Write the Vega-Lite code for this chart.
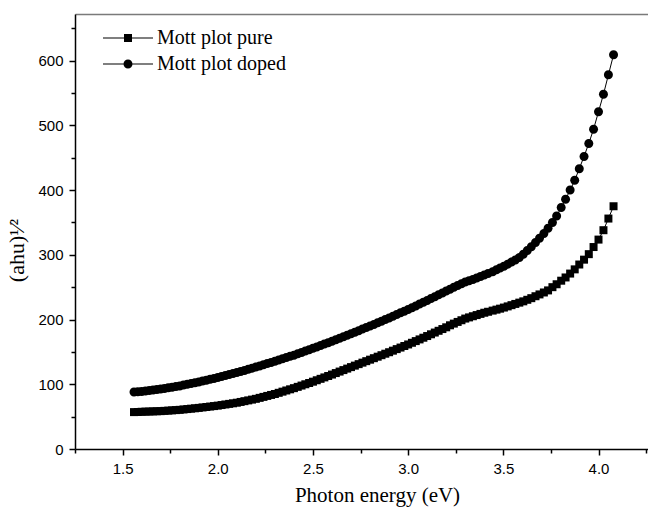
{
  "$schema": "https://vega.github.io/schema/vega-lite/v6.json",
  "width": 573,
  "height": 435,
  "autosize": {"type": "none"},
  "padding": {"left": 75, "top": 14, "right": 0, "bottom": 59},
  "background": "white",
  "config": {"view": {"stroke": null}},
  "data": {"values": [
    {"e":1.56,"pure":57.0,"doped":88.0},{"e":1.58,"pure":57.2,"doped":88.5},{"e":1.60,"pure":57.5,"doped":89.0},{"e":1.62,"pure":57.7,"doped":89.7},
    {"e":1.64,"pure":57.9,"doped":90.4},{"e":1.66,"pure":58.1,"doped":91.1},{"e":1.68,"pure":58.3,"doped":91.8},{"e":1.70,"pure":58.5,"doped":92.5},
    {"e":1.72,"pure":58.9,"doped":93.5},{"e":1.74,"pure":59.3,"doped":94.5},{"e":1.76,"pure":59.7,"doped":95.5},{"e":1.78,"pure":60.1,"doped":96.5},
    {"e":1.80,"pure":60.5,"doped":97.5},{"e":1.82,"pure":61.1,"doped":98.7},{"e":1.84,"pure":61.7,"doped":99.9},{"e":1.86,"pure":62.3,"doped":101.1},
    {"e":1.88,"pure":62.9,"doped":102.3},{"e":1.90,"pure":63.5,"doped":103.5},{"e":1.92,"pure":64.2,"doped":104.9},{"e":1.94,"pure":64.9,"doped":106.3},
    {"e":1.96,"pure":65.6,"doped":107.7},{"e":1.98,"pure":66.3,"doped":109.1},{"e":2.00,"pure":67.0,"doped":110.5},{"e":2.02,"pure":67.9,"doped":112.0},
    {"e":2.04,"pure":68.8,"doped":113.5},{"e":2.06,"pure":69.7,"doped":115.0},{"e":2.08,"pure":70.6,"doped":116.5},{"e":2.10,"pure":71.5,"doped":118.0},
    {"e":2.12,"pure":72.7,"doped":119.7},{"e":2.14,"pure":73.9,"doped":121.4},{"e":2.16,"pure":75.1,"doped":123.1},{"e":2.18,"pure":76.3,"doped":124.8},
    {"e":2.20,"pure":77.5,"doped":126.5},{"e":2.22,"pure":79.0,"doped":128.3},{"e":2.24,"pure":80.5,"doped":130.1},{"e":2.26,"pure":82.0,"doped":131.9},
    {"e":2.28,"pure":83.5,"doped":133.7},{"e":2.30,"pure":85.0,"doped":135.5},{"e":2.32,"pure":86.8,"doped":137.4},{"e":2.34,"pure":88.6,"doped":139.3},
    {"e":2.36,"pure":90.4,"doped":141.2},{"e":2.38,"pure":92.2,"doped":143.1},{"e":2.40,"pure":94.0,"doped":145.0},{"e":2.42,"pure":96.0,"doped":147.1},
    {"e":2.44,"pure":98.0,"doped":149.2},{"e":2.46,"pure":100.0,"doped":151.3},{"e":2.48,"pure":102.0,"doped":153.4},{"e":2.50,"pure":104.0,"doped":155.5},
    {"e":2.52,"pure":106.2,"doped":157.7},{"e":2.54,"pure":108.4,"doped":159.9},{"e":2.56,"pure":110.6,"doped":162.1},{"e":2.58,"pure":112.8,"doped":164.3},
    {"e":2.60,"pure":115.0,"doped":166.5},{"e":2.62,"pure":117.3,"doped":168.8},{"e":2.64,"pure":119.6,"doped":171.1},{"e":2.66,"pure":121.9,"doped":173.4},
    {"e":2.68,"pure":124.2,"doped":175.7},{"e":2.70,"pure":126.5,"doped":178.0},{"e":2.72,"pure":128.8,"doped":180.4},{"e":2.74,"pure":131.1,"doped":182.8},
    {"e":2.76,"pure":133.4,"doped":185.2},{"e":2.78,"pure":135.7,"doped":187.6},{"e":2.80,"pure":138.0,"doped":190.0},{"e":2.82,"pure":140.3,"doped":192.5},
    {"e":2.84,"pure":142.6,"doped":195.0},{"e":2.86,"pure":144.9,"doped":197.5},{"e":2.88,"pure":147.2,"doped":200.0},{"e":2.90,"pure":149.5,"doped":202.5},
    {"e":2.92,"pure":151.9,"doped":205.1},{"e":2.94,"pure":154.3,"doped":207.7},{"e":2.96,"pure":156.7,"doped":210.3},{"e":2.98,"pure":159.1,"doped":212.9},
    {"e":3.00,"pure":161.5,"doped":215.5},{"e":3.02,"pure":164.1,"doped":218.3},{"e":3.04,"pure":166.7,"doped":221.1},{"e":3.06,"pure":169.3,"doped":223.9},
    {"e":3.08,"pure":171.9,"doped":226.7},{"e":3.10,"pure":174.5,"doped":229.5},{"e":3.12,"pure":177.2,"doped":232.4},{"e":3.14,"pure":179.9,"doped":235.3},
    {"e":3.16,"pure":182.6,"doped":238.2},{"e":3.18,"pure":185.3,"doped":241.1},{"e":3.20,"pure":188.0,"doped":244.0},{"e":3.22,"pure":191.1,"doped":246.9},
    {"e":3.24,"pure":193.7,"doped":249.7},{"e":3.26,"pure":196.3,"doped":252.5},{"e":3.28,"pure":198.9,"doped":255.3},{"e":3.30,"pure":201.5,"doped":258.0},
    {"e":3.32,"pure":203.3,"doped":260.0},{"e":3.34,"pure":205.1,"doped":262.0},{"e":3.36,"pure":206.9,"doped":264.2},{"e":3.38,"pure":208.7,"doped":266.5},
    {"e":3.40,"pure":210.5,"doped":268.8},{"e":3.42,"pure":212.0,"doped":271.2},
    {"e":3.444,"pure":213.8,"doped":274},{"e":3.464,"pure":215.3,"doped":277},{"e":3.483,"pure":216.8,"doped":279.5},{"e":3.503,"pure":218.5,"doped":282.5},
    {"e":3.523,"pure":220.3,"doped":285.5},{"e":3.543,"pure":222.2,"doped":289},{"e":3.563,"pure":224.1,"doped":292},{"e":3.584,"pure":226.1,"doped":296},
    {"e":3.605,"pure":228.1,"doped":301},{"e":3.626,"pure":230.5,"doped":306.5},{"e":3.647,"pure":233,"doped":312.5},{"e":3.669,"pure":236,"doped":319},
    {"e":3.690,"pure":238.8,"doped":325.5},{"e":3.713,"pure":241.8,"doped":333},{"e":3.735,"pure":245,"doped":341},{"e":3.758,"pure":250,"doped":350},
    {"e":3.780,"pure":254.5,"doped":360},{"e":3.804,"pure":260,"doped":373},{"e":3.827,"pure":265,"doped":386},{"e":3.851,"pure":271,"doped":400},
    {"e":3.875,"pure":277.5,"doped":415},{"e":3.899,"pure":285,"doped":433},{"e":3.924,"pure":292.5,"doped":452},{"e":3.949,"pure":301,"doped":472},
    {"e":3.974,"pure":312,"doped":494},{"e":4.000,"pure":323.5,"doped":521},{"e":4.026,"pure":338,"doped":548},{"e":4.052,"pure":356,"doped":578},
    {"e":4.079,"pure":375,"doped":609}
  ]},
  "transform": [{"fold": ["pure", "doped"], "as": ["s", "v"]}],
  "encoding": {
    "y": {
      "field": "v", "type": "quantitative",
      "scale": {"domain": [0, 672], "nice": false, "zero": false},
      "axis": {
        "values": [0,50,100,150,200,250,300,350,400,450,500,550,600,650],
        "labelExpr": "datum.value % 100 == 0 ? datum.label : ''",
        "format": "d",
        "grid": false,
        "domainColor": "black", "domainWidth": 1.5,
        "tickColor": "black", "tickWidth": 1.5,
        "tickSize": {"condition": {"test": "datum.value % 100 == 0", "value": 6}, "value": 4},
        "labelFont": "Liberation Sans", "labelFontSize": 15, "labelColor": "black", "labelPadding": 6,
        "labelOverlap": false, "labelFlush": false,
        "title": "(ahu)¹⁄²",
        "titleFont": "Liberation Serif", "titleFontSize": 22, "titleFontWeight": "normal", "titleColor": "black",
        "titleAngle": -90, "titleAlign": "center", "titleBaseline": "alphabetic",
        "titleX": -52, "titleY": 236
      }
    }
  },
  "layer": [
    {
      "mark": {"type": "line", "color": "black", "strokeWidth": 1},
      "encoding": {
        "x": {
          "field": "e", "type": "quantitative",
          "scale": {"domain": [1.25, 4.26], "nice": false, "zero": false},
          "axis": {
            "orient": "bottom",
            "values": [1.25,1.5,1.75,2.0,2.25,2.5,2.75,3.0,3.25,3.5,3.75,4.0,4.25],
            "labelExpr": "round(datum.value*100) % 50 == 0 ? format(datum.value, '.1f') : ''",
            "grid": false,
            "domainColor": "black", "domainWidth": 1.5,
            "tickColor": "black", "tickWidth": 1.5,
            "tickSize": {"condition": {"test": "round(datum.value*100) % 50 == 0", "value": 6}, "value": 4},
            "labelFont": "Liberation Sans", "labelFontSize": 15, "labelColor": "black", "labelPadding": 6,
            "labelOverlap": false, "labelFlush": false,
            "title": "Photon energy  (eV)",
            "titleFont": "Liberation Serif", "titleFontSize": 21, "titleFontWeight": "normal", "titleColor": "black",
            "titleX": 302, "titleY": 52, "titleBaseline": "alphabetic", "titleAlign": "center"
          }
        },
        "detail": {"field": "s", "type": "nominal"}
      }
    },
    {
      "mark": {"type": "point", "filled": true, "color": "black", "size": 100, "opacity": 1},
      "encoding": {
        "x": {"field": "e", "type": "quantitative", "axis": null},
        "shape": {
          "field": "s", "type": "nominal",
          "scale": {"domain": ["pure", "doped"], "range": [
            "M-0.8,-0.8H0.8V0.8H-0.8Z",
            "M-0.9,0A0.9,0.9,0,1,1,0.9,0A0.9,0.9,0,1,1,-0.9,0Z"
          ]},
          "legend": null
        }
      }
    },
    {
      "mark": {"type": "point", "filled": true, "color": "black", "size": 100, "opacity": 0},
      "encoding": {
        "x": {"field": "e", "type": "quantitative", "axis": null},
        "shape": {
          "field": "s", "type": "nominal",
          "scale": {"domain": ["pure", "doped"], "range": [
            "M-5,-0.1H-0.8V0.1H-5ZM0.8,-0.1H5V0.1H0.8ZM-0.8,-0.8H0.8V0.8H-0.8Z",
            "M-5,-0.1H-0.85V0.1H-5ZM0.85,-0.1H5V0.1H0.85ZM-0.9,0A0.9,0.9,0,1,1,0.9,0A0.9,0.9,0,1,1,-0.9,0Z"
          ]},
          "legend": {
            "orient": "none", "legendX": 43, "legendY": 14,
            "title": null, "padding": 0,
            "symbolSize": 100, "symbolOpacity": 1,
            "symbolFillColor": "black",
            "labelFont": "Liberation Serif", "labelFontSize": 20, "labelColor": "black",
            "labelOffset": 19, "rowPadding": 6,
            "labelExpr": "'Mott plot ' + datum.label"
          }
        }
      }
    },
    {
      "mark": {"type": "point", "opacity": 0},
      "encoding": {
        "x": {
          "field": "e", "type": "quantitative",
          "axis": {"orient": "top", "labels": false, "ticks": false, "title": null, "grid": false,
                   "domainColor": "#7a7a7a", "domainWidth": 1.5}
        }
      }
    }
  ],
  "resolve": {
    "axis": {"x": "independent"},
    "scale": {"shape": "independent"},
    "legend": {"shape": "independent"}
  }
}
